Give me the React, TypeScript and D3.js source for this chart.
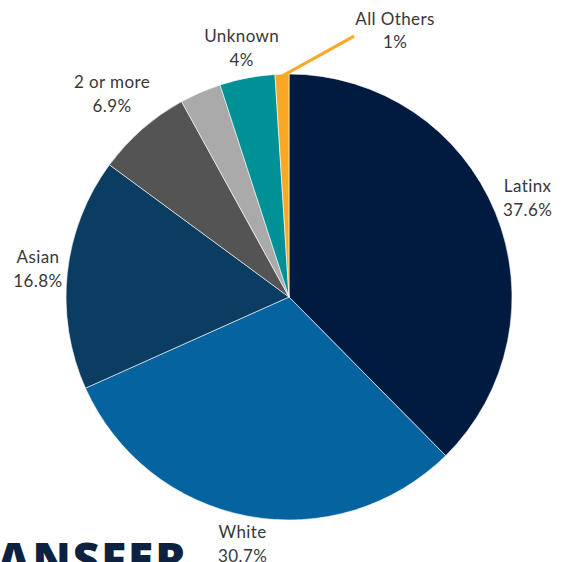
import React from "react";
import * as d3 from "d3";

const categories = ["Latinx", "White", "Asian", "2 or more", "Other", "Unknown", "All Others"];
const values = [37.6, 30.7, 16.8, 6.9, 3.0, 4.0, 1.0];
const valueLabels = ["37.6%", "30.7%", "16.8%", "6.9%", "", "4%", "1%"];
const showLabel = [true, true, true, true, false, true, true];
const colors = ["#001a40", "#0564a0", "#0b3c61", "#545454", "#aaaaaa", "#009196", "#f9a826"];

// layout: distance of each label block centre from the pie centre
const labelRadii = [258, 252, 252.5, 268.5, 0, 252.5, 0];

const W = 570;
const H = 562;
const cx = 289;
const cy = 297;
const R = 223;

export default function App() {
  const pie = d3.pie<number>().sort(null).value((d) => d);
  const arcs = pie(values);
  const arc = d3.arc<d3.PieArcDatum<number>>().innerRadius(0).outerRadius(R);
  const font = "Lato, 'Open Sans', sans-serif";
  const fs = 17;
  const tc = "#383838";

  return (
    <svg width={W} height={H} style={{ position: "absolute", left: 0, top: 0, background: "#fff" }}>
      <g transform={`translate(${cx},${cy})`}>
        {arcs.map((a, i) => (
          <path key={i} d={arc(a) || ""} fill={colors[i]} stroke="#fff" strokeWidth={0.6} />
        ))}
        {arcs.map((a, i) => {
          if (!showLabel[i]) return null;
          const mid = (a.startAngle + a.endAngle) / 2;
          const isSmall = categories[i] === "All Others";
          if (isSmall) {
            const x0 = Math.sin(mid) * (R - 2);
            const y0 = -Math.cos(mid) * (R - 2);
            const x1 = x0 + 72;
            const y1 = y0 - 40;
            return (
              <g key={"l" + i}>
                <line x1={x0} y1={y0} x2={x1} y2={y1} stroke={colors[i]} strokeWidth={3} />
                <text x={x1 + 41} y={y1 - 11} textAnchor="middle" fontFamily={font} fontSize={fs} letterSpacing={0.4} fill={tc}>
                  {categories[i]}
                </text>
                <text x={x1 + 41} y={y1 + 12} textAnchor="middle" fontFamily={font} fontSize={fs} letterSpacing={0.4} fill={tc}>
                  {valueLabels[i]}
                </text>
              </g>
            );
          }
          const r = labelRadii[i];
          const lx = Math.sin(mid) * r;
          const ly = -Math.cos(mid) * r;
          return (
            <g key={"l" + i}>
              <text x={lx} y={ly - 7} textAnchor="middle" fontFamily={font} fontSize={fs} letterSpacing={0.4} fill={tc}>
                {categories[i]}
              </text>
              <text x={lx} y={ly + 17} textAnchor="middle" fontFamily={font} fontSize={fs} letterSpacing={0.4} fill={tc}>
                {valueLabels[i]}
              </text>
            </g>
          );
        })}
      </g>
      <text x={-3} y={576} fontFamily="'Open Sans', sans-serif" fontWeight={800} fontSize={46} fill="#0d2240" letterSpacing={2}>
        ANSFER
      </text>
    </svg>
  );
}
